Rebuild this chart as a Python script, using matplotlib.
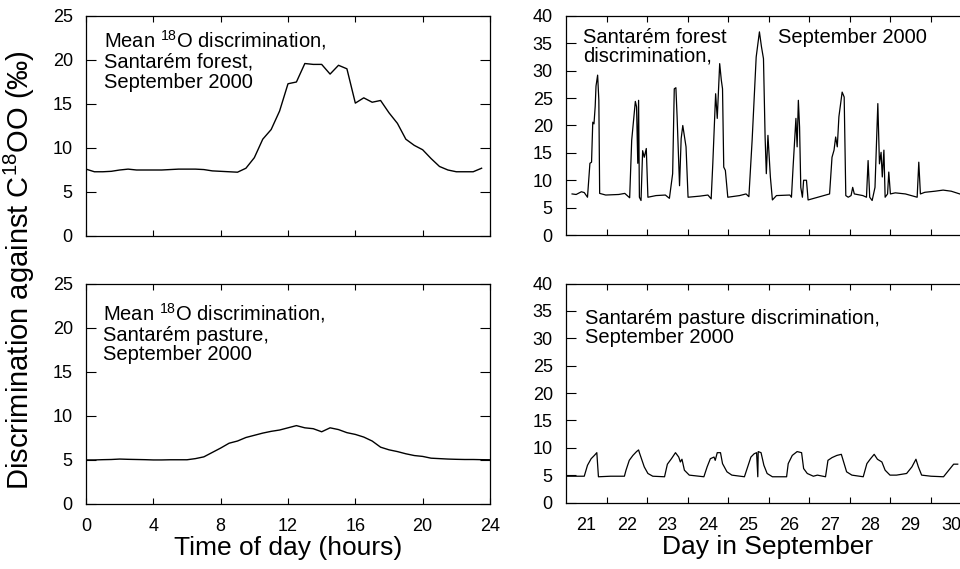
import matplotlib
matplotlib.use("Agg")
import matplotlib.pyplot as plt
import numpy as np

plt.rcParams['font.family'] = ['Liberation Sans', 'DejaVu Sans']
plt.rcParams['mathtext.fontset'] = 'custom'
plt.rcParams['mathtext.rm'] = 'Liberation Sans'
plt.rcParams['mathtext.it'] = 'Liberation Sans:italic'
plt.rcParams['mathtext.bf'] = 'Liberation Sans:bold'

# ---- mean diurnal cycle, forest (hours, permil) ----
hours_forest = [0, 0.5, 1.0, 1.5, 2.0, 2.5, 3.0, 3.5, 4.0, 4.5, 5.0, 5.5, 6.0, 6.5,
                7.0, 7.5, 8.0, 8.5, 9.0, 9.5, 10.0, 10.5, 11.0, 11.5, 12.0, 12.5,
                13.0, 13.5, 14.0, 14.5, 15.0, 15.5, 16.0, 16.5, 17.0, 17.5, 18.0,
                18.5, 19.0, 19.5, 20.0, 20.5, 21.0, 21.5, 22.0, 22.5, 23.0, 23.5]
disc_forest_mean = [7.6, 7.3, 7.3, 7.35, 7.5, 7.6, 7.5, 7.5, 7.5, 7.5, 7.55, 7.6, 7.6, 7.6,
                    7.55, 7.4, 7.35, 7.3, 7.25, 7.7, 8.9, 11.0, 12.1, 14.2, 17.3, 17.5,
                    19.6, 19.5, 19.5, 18.4, 19.4, 19.0, 15.1, 15.7, 15.2, 15.4, 14.0,
                    12.8, 11.0, 10.3, 9.8, 8.8, 7.9, 7.5, 7.3, 7.3, 7.3, 7.7]

# ---- mean diurnal cycle, pasture ----
hours_pasture = [0, 0.5, 1.0, 1.5, 2.0, 2.5, 3.0, 3.5, 4.0, 4.5, 5.0, 5.5, 6.0, 6.5,
                 7.0, 7.5, 8.0, 8.5, 9.0, 9.5, 10.0, 10.5, 11.0, 11.5, 12.0, 12.5,
                 13.0, 13.5, 14.0, 14.5, 15.0, 15.5, 16.0, 16.5, 17.0, 17.5, 18.0,
                 18.5, 19.0, 19.5, 20.0, 20.5, 21.0, 21.5, 22.0, 22.5, 23.0, 23.5, 24.0]
disc_pasture_mean = [4.95, 4.95, 4.98, 5.0, 5.05, 5.02, 5.0, 4.98, 4.95, 4.95, 4.97, 4.97,
                     4.97, 5.1, 5.3, 5.8, 6.3, 6.85, 7.1, 7.5, 7.75, 8.0, 8.2, 8.35, 8.6,
                     8.85, 8.6, 8.5, 8.15, 8.6, 8.4, 8.05, 7.85, 7.55, 7.1, 6.4, 6.1, 5.9,
                     5.65, 5.45, 5.35, 5.15, 5.1, 5.05, 5.02, 5.0, 5.0, 4.98, 4.97]

# ---- forest time series, day in September ----
day_forest = [21.15, 21.25, 21.38, 21.45, 21.53, 21.59, 21.63, 21.66, 21.69, 21.72, 21.74,
              21.78, 21.81, 21.83, 21.98, 22.3, 22.45, 22.57, 22.62, 22.71, 22.74, 22.77,
              22.79, 22.81, 22.85, 22.89, 22.93, 22.98, 23.02, 23.22, 23.45, 23.55, 23.63,
              23.67, 23.71, 23.74, 23.80, 23.84, 23.88, 23.96, 24.01, 24.3, 24.5, 24.58,
              24.62, 24.69, 24.73, 24.79, 24.83, 24.86, 24.89, 24.93, 24.99, 25.28, 25.44,
              25.51, 25.59, 25.69, 25.77, 25.82, 25.87, 25.91, 25.94, 25.98, 26.04, 26.09,
              26.19, 26.52, 26.56, 26.60, 26.67, 26.70, 26.73, 26.76, 26.79, 26.83, 26.86,
              26.93, 26.97, 27.26, 27.5, 27.56, 27.61, 27.65, 27.69, 27.73, 27.81, 27.86,
              27.90, 27.96, 28.03, 28.07, 28.11, 28.32, 28.41, 28.45, 28.49, 28.55, 28.62,
              28.69, 28.73, 28.77, 28.80, 28.84, 28.87, 28.93, 28.96, 29.0, 29.12, 29.37,
              29.66, 29.70, 29.74, 29.85, 30.1, 30.3, 30.5, 30.71]
disc_forest = [7.5, 7.4, 7.9, 7.75, 6.9, 13.1, 13.3, 20.6, 20.3, 23.5, 27.2,
               29.2, 24.6, 7.6, 7.3, 7.4, 7.6, 6.8, 17.3, 24.4, 23.4, 13.1,
               24.6, 6.9, 6.3, 15.4, 14.2, 15.8, 6.9, 7.2, 7.3, 6.7, 11.2,
               26.7, 26.9, 21.6, 9.0, 17.6, 20.0, 16.1, 6.9, 7.1, 7.3, 6.6,
               13.0, 25.8, 21.3, 31.3, 28.3, 26.7, 12.4, 11.8, 6.9, 7.2, 7.5,
               7.0, 17.3, 32.5, 37.1, 34.4, 32.2, 17.9, 11.2, 18.2, 10.6, 6.4,
               7.2, 7.3, 6.9, 12.4, 21.3, 16.1, 24.6, 19.7, 8.7, 6.9, 10.0,
               10.0, 6.4, 7.0, 7.5, 14.2, 15.5, 17.9, 16.1, 21.6, 26.1, 25.2,
               7.2, 6.9, 7.2, 8.7, 7.5, 7.2, 6.9, 13.6, 6.9, 6.3, 8.7,
               24.0, 13.0, 15.1, 10.6, 15.5, 6.9, 7.5, 11.5, 7.5, 7.7, 7.5,
               6.9, 13.3, 7.5, 7.8, 8.0, 8.2, 8.0, 7.5]

# ---- pasture time series ----
day_pasture = [21.0, 21.45, 21.53, 21.62, 21.70, 21.76, 21.80, 22.1, 22.44, 22.48, 22.56,
               22.65, 22.74, 22.79, 22.81, 22.93, 23.02, 23.14, 23.43, 23.50, 23.60, 23.70,
               23.78, 23.82, 23.86, 23.92, 24.04, 24.4, 24.48, 24.56, 24.65, 24.68, 24.73,
               24.81, 24.86, 24.97, 25.09, 25.4, 25.48, 25.56, 25.64, 25.70, 25.73, 25.74,
               25.81, 25.88, 25.96, 26.09, 26.44, 26.48, 26.58, 26.70, 26.81, 26.86, 26.95,
               27.1, 27.2, 27.4, 27.46, 27.56, 27.68, 27.79, 27.92, 28.05, 28.33, 28.42,
               28.50, 28.60, 28.68, 28.79, 28.87, 28.99, 29.15, 29.40, 29.53, 29.63, 29.69,
               29.77, 30.0, 30.31, 30.44, 30.56, 30.66]
disc_pasture = [4.8, 4.8, 6.8, 8.0, 8.6, 9.1, 4.7, 4.8, 4.8, 5.9, 7.7,
                8.6, 9.3, 9.6, 9.1, 6.5, 5.3, 4.8, 4.7, 7.0, 8.0, 9.1,
                8.3, 7.4, 7.9, 5.9, 5.0, 4.7, 6.5, 8.0, 8.3, 7.7, 9.1,
                9.1, 7.1, 5.6, 5.0, 4.7, 6.5, 8.3, 8.9, 9.1, 4.7, 9.3,
                9.1, 6.8, 5.3, 4.7, 4.7, 7.1, 8.6, 9.3, 9.1, 6.2, 5.3,
                4.8, 5.0, 4.7, 7.7, 8.2, 8.6, 8.8, 5.6, 5.0, 4.7, 7.1,
                7.9, 8.8, 7.9, 7.4, 5.9, 5.0, 5.0, 5.3, 6.5, 7.9, 6.5,
                5.0, 4.8, 4.7, 5.9, 7.0, 7.0]

hour_ticks = [0, 4, 8, 12, 16, 20, 24]
day_ticks = [22, 23, 24, 25, 26, 27, 28, 29, 30]
day_labels = ['21', '22', '23', '24', '25', '26', '27', '28', '29', '30']

W, H = 960, 569
fig = plt.figure(figsize=(W / 100, H / 100), dpi=100)

def frac(x0, y0, x1, y1):
    return [x0 / W, 1 - y1 / H, (x1 - x0) / W, (y1 - y0) / H]

ax_tl = fig.add_axes(frac(86, 16, 490, 236))
ax_bl = fig.add_axes(frac(86, 283.5, 490, 503.5))
ax_tr = fig.add_axes(frac(566, 16, 971.5, 235))
ax_br = fig.add_axes(frac(566, 283.5, 971.5, 502.5))

lw = 1.0
ax_tl.plot(hours_forest, disc_forest_mean, color='black', lw=lw)
ax_bl.plot(hours_pasture, disc_pasture_mean, color='black', lw=lw)
ax_tr.plot(day_forest, disc_forest, color='black', lw=0.9)
ax_br.plot(day_pasture, disc_pasture, color='black', lw=0.9)

tick_fs = 13
for ax in (ax_tl, ax_bl):
    ax.set_xlim(0, 24)
    ax.set_ylim(0, 25)
    ax.set_xticks(hour_ticks)
    ax.set_yticks([0, 5, 10, 15, 20, 25])

for ax in (ax_tr, ax_br):
    ax.set_xlim(21, 31)
    ax.set_ylim(0, 40)
    ax.set_xticks(day_ticks)
    ax.set_xticklabels([])
    ax.set_xticks([d + 0.5 for d in range(21, 31)], minor=True)
    ax.set_xticklabels(day_labels, minor=True)
    ax.set_yticks([0, 5, 10, 15, 20, 25, 30, 35, 40])
    ax.tick_params(axis='x', which='minor', length=0, pad=10.5, labelsize=tick_fs)

for ax in (ax_tl, ax_bl, ax_tr, ax_br):
    for s in ax.spines.values():
        s.set_linewidth(0.9)
    ax.tick_params(axis='x', which='major', direction='in', top=True, bottom=True,
                   length=4.5, width=0.8, pad=10.5, labelsize=tick_fs)
    ax.tick_params(axis='y', which='major', direction='in', left=True, right=True,
                   length=7.5, width=0.8, pad=9.5, labelsize=tick_fs)

ax_tl.tick_params(axis='x', labelbottom=False)
ax_tr.tick_params(axis='x', which='both', labelbottom=False)

lab_fs = 19
ax_bl.set_xlabel('Time of day (hours)', fontsize=lab_fs)
ax_br.set_xlabel('Day in September', fontsize=lab_fs)
ax_bl.xaxis.set_label_coords(0.5, -0.148)
ax_br.xaxis.set_label_coords((768 - 566) / 405.5, -0.148)

fig.text(19 / W, 1 - 270 / H, 'Discrimination against C$^{18}$OO (‰)',
         rotation=90, ha='center', va='center', fontsize=21)

tfs = 14.5
ax_tl.text(0.045, 0.945, 'Mean $^{18}$O discrimination,\nSantarém forest,\nSeptember 2000',
           transform=ax_tl.transAxes, ha='left', va='top', fontsize=tfs, linespacing=1.05)
ax_bl.text(0.043, 0.92, 'Mean $^{18}$O discrimination,\nSantarém pasture,\nSeptember 2000',
           transform=ax_bl.transAxes, ha='left', va='top', fontsize=tfs, linespacing=1.05)
ax_tr.text(0.042, 0.945, 'Santarém forest\ndiscrimination,',
           transform=ax_tr.transAxes, ha='left', va='top', fontsize=tfs, linespacing=0.95)
ax_tr.text(0.523, 0.945, 'September 2000',
           transform=ax_tr.transAxes, ha='left', va='top', fontsize=tfs)
ax_br.text(0.047, 0.885, 'Santarém pasture discrimination,\nSeptember 2000',
           transform=ax_br.transAxes, ha='left', va='top', fontsize=tfs, linespacing=1.0)

fig.savefig('out.png', dpi=100)
